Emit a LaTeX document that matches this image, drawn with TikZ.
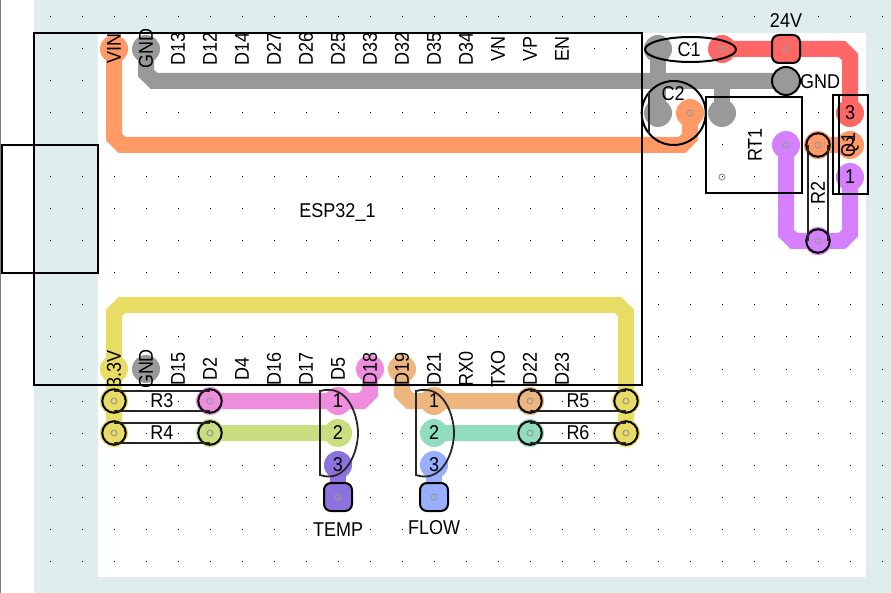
\documentclass[tikz,border=0pt]{standalone}
\usepackage{fontspec}
\setmainfont[FakeStretch=0.9]{Liberation Sans}
\usetikzlibrary{calc, shapes.geometric}

\definecolor{boardbg}{HTML}{DFEDED}
\definecolor{netvin}{HTML}{FF9966}
\definecolor{netgnd}{HTML}{999999}
\definecolor{netpwr}{HTML}{FF6666}
\definecolor{netrt}{HTML}{D580FF}
\definecolor{netvcc}{HTML}{E8DC64}
\definecolor{nettmpa}{HTML}{EE8CDD}
\definecolor{nettmpb}{HTML}{C9DE7E}
\definecolor{nettmpc}{HTML}{8B72DD}
\definecolor{netflwa}{HTML}{EDB67E}
\definecolor{netflwb}{HTML}{90DEBE}
\definecolor{netflwc}{HTML}{98AEFF}

\begin{document}
\begin{tikzpicture}[x=1pt,y=-1pt]
\tikzset{
    pad/.style={circle,fill=#1,minimum size=28pt,inner sep=0pt},
    padring/.style={pad=#1,draw=black,line width=2pt},
    padsquare/.style={rectangle,rounded corners=7pt,fill=#1,draw=black,line width=2pt,minimum size=28pt,inner sep=0pt},
    trace/.style={draw=#1,line width=16pt,line join=miter},
    hole/.style={circle,draw=netgnd,line width=1pt,minimum size=6pt,inner sep=0pt},
    lead/.style={circle,draw=black,line width=2pt,minimum size=23.5pt,inner sep=0pt},
    part/.style={draw=black,line width=2pt,inner sep=0pt},
    thinpart/.style={draw=black!85,line width=1.8pt},
    label/.style={font=\fontsize{20}{20}\selectfont,inner sep=0pt,text=black},
    pinlabel/.style={label,rotate=90},
}
\useasboundingbox (0,0) rectangle (891,593);
\fill[white] (0,0) rectangle (891,593);
\fill[netgnd!80!black] (0,0) rectangle (1,593);
\fill[boardbg] (34,0) rectangle (891,593);
\fill[white] (98,33) rectangle (866,577);
\foreach \x in {50,82,...,882}
  \foreach \y in {17,49,...,561}
    \fill[black] (\x-.5,\y-.5) rectangle (\x+.5,\y+.5);

% pads
\node (vin) [pad=netvin] at (114,49) {};
\node (gndtop) [pad=netgnd] at (146,49) {};
\node (vcc) [pad=netvcc] at (114,369) {};
\node (gndbot) [pad=netgnd] at (146,369) {};
\node (d18) [pad=nettmpa] at (370,369) {};
\node (d19) [pad=netflwa] at (402,369) {};
\node (c1a) [pad=netgnd] at (658,49) {};
\node (c1b) [pad=netpwr] at (722,49) {};
\node (c2a) [pad=netgnd] at (658,113) {};
\node (c2b) [pad=netvin] at (690,113) {};
\node (rt1a) [pad=netgnd] at (722,113) {};
\node (rt1b) [pad=netrt] at (786,145) {};
\node (r2a) [pad=netvin] at (818,145) {};
\node (r2b) [pad=netrt] at (818,241) {};
\node (q1c) [pad=netpwr] at (850,113) {};
\node (q1b) [pad=netvin] at (850,145) {};
\node (q1a) [pad=netrt] at (850,177) {};
\node (r3a) [pad=netvcc] at (114,401) {};
\node (r3b) [pad=nettmpa] at (210,401) {};
\node (r4a) [pad=netvcc] at (114,433) {};
\node (r4b) [pad=nettmpb] at (210,433) {};
\node (r5a) [pad=netflwa] at (530,401) {};
\node (r5b) [pad=netvcc] at (626,401) {};
\node (r6a) [pad=netflwb] at (530,433) {};
\node (r6b) [pad=netvcc] at (626,433) {};
\node (tmp1) [pad=nettmpa] at (338,401) {};
\node (tmp2) [pad=nettmpb] at (338,433) {};
\node (tmp3) [pad=nettmpc] at (338,465) {};
\node (flw1) [pad=netflwa] at (434,401) {};
\node (flw2) [pad=netflwb] at (434,433) {};
\node (flw3) [pad=netflwc] at (434,465) {};

% traces
\draw[trace=netvin] (vin.center) -- ++(0,88) -- ++(8,8) -- ($(c2b.center)+(-8,32)$) -- ++(8,-8) -- (c2b.center);
\draw[trace=netvin] (r2a.center) -- (q1b.center);
\draw[trace=netgnd] (gndtop.center) -- ++(0,24) -- ++(8,8) -- (786,81);
\draw[trace=netgnd] (c1a.center) -- (c2a.center);
\draw[trace=netgnd] (rt1a.center) -- (722,81);
\draw[trace=netpwr] (c1b.center) -- ($(q1c.center)+(-8,-64)$) -- ++(8,8) -- (q1c.center);
\draw[trace=netrt] (rt1b.center) -- ++(0,88) -- ++(8,8) -- ($(q1a.center)+(-8,64)$) -- ++(8,-8) -- (q1a.center);
\draw[trace=netvcc] (r4a.center) -- (vcc.center) -- ++(0,-56) -- ++(8,-8) -- ($(r5b.center)+(-8,-96)$) -- ++(8,8) -- (r6b.center);
\draw[trace=nettmpa] (r3b.center) -- ($(d18.center)+(-8,32)$) -- ++(8,-8) -- (d18.center);
\draw[trace=nettmpb] (r4b.center) -- (tmp2.center);
\draw[trace=netflwa] (d19.center) -- ++(0,24) -- ++(8,8) -- (r5a.center);
\draw[trace=netflwb] (flw2.center) -- (r6a.center);
\draw[trace=nettmpc] (tmp3.center) -- (338,497);
\draw[trace=netflwc] (flw3.center) -- (434,497);

% outlined pads
\node (pwr) [padsquare=netpwr] at (786,49) {};
\node (gnd) [padring=netgnd] at (786,81) {};
\node (temp) [padsquare=nettmpc] at (338,497) {};
\node (flow) [padsquare=netflwc] at (434,497) {};
\foreach \n in {c1a,c1b,c2a,c2b,rt1a,rt1b,r2a,r2b,r3a,r3b,r4a,r4b,r5a,r5b,r6a,r6b,pwr,gnd,temp,flow}
  \node (hole\n) [hole] at (\n.center) {};
\node (holert1c) [hole] at (722,177) {};

% parts
\node (esp32) [part,minimum width=608pt,minimum height=352pt] at (338,209) {};
\node (usb) [part,minimum width=96pt,minimum height=128pt] at (50,209) {};
\node (c1) [part,ellipse,minimum width=91pt,minimum height=25pt] at (690.5,49.5) {};
\node (c2) [part,circle,minimum size=64pt] at (673.7,113) {};
\draw[thinpart] (c2.center)+(-24.5,-21) -- +(-24.5,21);
\node (rt1) [part,minimum width=96pt,minimum height=96pt] at (754,145) {};
\node (q1) [part,minimum width=35pt,minimum height=99pt] at (850.5,144.5) {};
\draw[part] (q1.north west)+(7,0) -- ($(q1.south west)+(7,0)$);
\foreach \a/\b in {r3a/r3b,r4a/r4b,r5a/r5b,r6a/r6b} {
  \node (lead\a) [lead] at (\a.center) {};
  \node (lead\b) [lead] at (\b.center) {};
  \draw[thinpart] ($(\a.center)+(0,-10)$) -- ($(\b.center)+(0,-10)$);
  \draw[thinpart] ($(\a.center)+(0,10)$) -- ($(\b.center)+(0,10)$);
}
\node (leadr2a) [lead] at (r2a.center) {};
\node (leadr2b) [lead] at (r2b.center) {};
\draw[thinpart] ($(r2a.center)+(-10,0)$) -- ($(r2b.center)+(-10,0)$);
\draw[thinpart] ($(r2a.center)+(10,0)$) -- ($(r2b.center)+(10,0)$);
\draw[thinpart] (320,391) .. controls (348,383) and (358,416) .. (358,433) .. controls (358,452) and (346,484) .. (320,475) -- cycle;
\draw[thinpart] (416,391) .. controls (444,383) and (454,416) .. (454,433) .. controls (454,452) and (442,484) .. (416,475) -- cycle;

% labels
\foreach \x/\t in {114/VIN,146/GND,178/D13,210/D12,242/D14,274/D27,306/D26,338/D25,370/D33,402/D32,434/D35,466/D34,498/VN,530/VP,562/EN}
  \node (top\t) [pinlabel] at (\x,49) {\t};
\foreach \x/\t in {114/3.3V,146/GND,178/D15,210/D2,242/D4,274/D16,306/D17,338/D5,370/D18,402/D19,434/D21,466/RX0,498/TXO,530/D22,562/D23}
  \node (bot\t) [pinlabel] at (\x,369) {\t};
\node (espname) [label] at (337.5,212.5) {ESP32\_1};
\node (c1name) [label] at (689,49.5) {C1};
\node (c2name) [label] at (673,94) {C2};
\node (rt1name) [pinlabel] at (755,145) {RT1};
\node (r2name) [pinlabel] at (818,193) {R2};
\node (q1name) [pinlabel] at (850,145) {Q1};
\node (q1pin3) [label] at (850,113) {3};
\node (q1pin2) [label] at (850,145) {2};
\node (q1pin1) [label] at (850,177) {1};
\node (pwrname) [label] at (786,21) {24V};
\node (gndname) [label] at (820,82) {GND};
\node (r3name) [label] at (162,401) {R3};
\node (r4name) [label] at (162,433) {R4};
\node (r5name) [label] at (578,401) {R5};
\node (r6name) [label] at (578,433) {R6};
\node (tmppin1) [label] at (338,401) {1};
\node (tmppin2) [label] at (338,433) {2};
\node (tmppin3) [label] at (338,465) {3};
\node (flwpin1) [label] at (434,401) {1};
\node (flwpin2) [label] at (434,433) {2};
\node (flwpin3) [label] at (434,465) {3};
\node (tempname) [label] at (338,530) {TEMP};
\node (flowname) [label] at (434,528) {FLOW};
\end{tikzpicture}
\end{document}
